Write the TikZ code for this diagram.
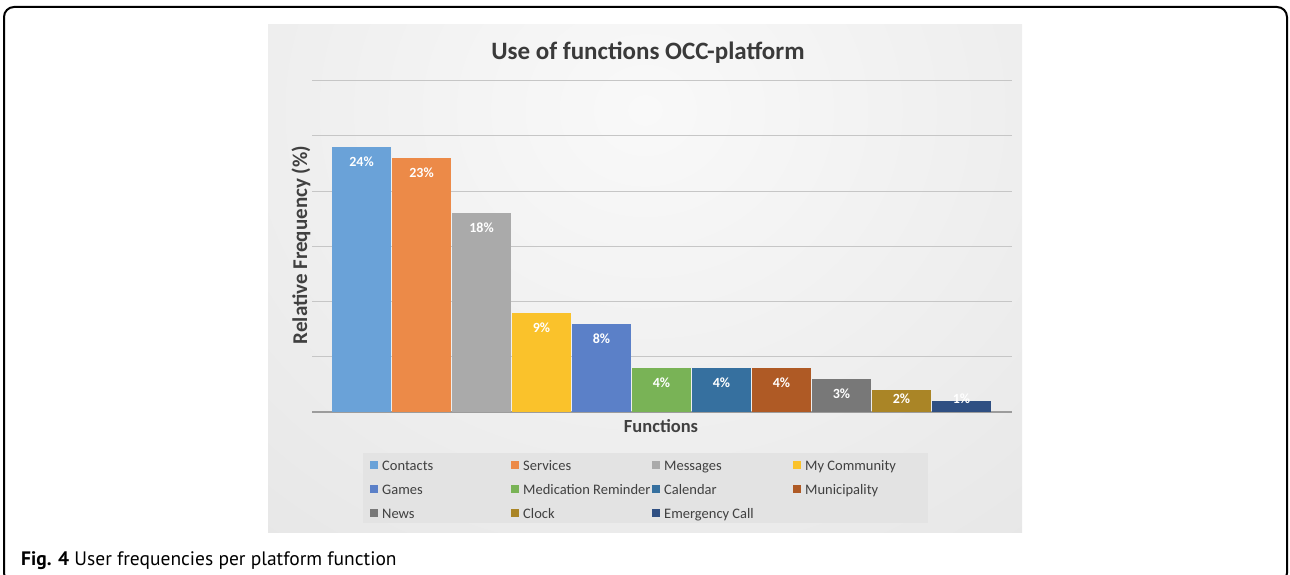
\documentclass[tikz,border=0pt]{standalone}
\usepackage{fontspec}
\setmainfont{Carlito}
\newfontfamily\capfont{PT Sans}
\definecolor{pin}{HTML}{F9F9F9}
\definecolor{pmid}{HTML}{E4E4E4}
\definecolor{pout}{HTML}{C4C4C4}
\definecolor{legbg}{HTML}{E3E3E3}
\definecolor{gridc}{HTML}{C6C6C6}
\definecolor{axisc}{HTML}{9C9C9C}
\definecolor{txt}{HTML}{404040}
\definecolor{ttl}{HTML}{3A3A3A}
\definecolor{cA}{HTML}{6AA2D8}
\definecolor{cB}{HTML}{EC8A48}
\definecolor{cC}{HTML}{AAAAAA}
\definecolor{cD}{HTML}{FAC22B}
\definecolor{cE}{HTML}{5B80C8}
\definecolor{cF}{HTML}{79B356}
\definecolor{cG}{HTML}{36709F}
\definecolor{cH}{HTML}{AF5A25}
\definecolor{cI}{HTML}{787878}
\definecolor{cJ}{HTML}{AA8526}
\definecolor{cK}{HTML}{2F4F82}
\pgfdeclareradialshading{panelshade}{\pgfpoint{0bp}{0bp}}{color(0bp)=(pin); color(25bp)=(pmid); color(50bp)=(pout)}
\begin{document}
\begin{tikzpicture}[x=1pt,y=-1pt,
  gridline/.style={draw=gridc, line width=1pt},
  axisline/.style={draw=axisc, line width=1.2pt},
  barbox/.style={inner sep=0pt, outer sep=0pt, draw=none, minimum width=59pt, anchor=south},
  barlbl/.style={text=white, font=\bfseries\fontsize{14}{16}\selectfont, inner sep=0pt},
  legmark/.style={inner sep=0pt, minimum size=8pt, draw=none},
  legtxt/.style={text=txt, font=\fontsize{14.5}{16}\selectfont, inner sep=0pt, anchor=base west},
  axtitle/.style={text=txt, font=\bfseries\fontsize{21}{24}\selectfont, inner sep=0pt}]
\useasboundingbox (0,0) rectangle (1290,575);
\clip (0,0) rectangle (1290,575);
\draw[line width=2pt, rounded corners=10pt] (4,7) rectangle (1287,583);
% chart panel
\fill[pout] (268,25) rectangle (1022,532);
\begin{scope}
  \clip (268,25) rectangle (1022,532);
  \shade[shading=panelshade] (645,110) ellipse (720 and 640);
\end{scope}
% gridlines
\foreach \v in {5,10,...,30}
  \draw[gridline] (312,{412-11.04*\v}) -- (1012,{412-11.04*\v});
\draw[axisline] (312,412) -- (1012,412);
% bars
\foreach \i/\v/\c/\ly in {0/24/cA/162, 1/23/cB/173, 2/18/cC/228, 3/9/cD/328, 4/8/cE/339, 5/4/cF/383, 6/4/cG/383, 7/4/cH/383, 8/3/cI/394, 9/2/cJ/399, 10/1/cK/399}{
  \node[barbox, fill=\c, minimum height={11.04pt*\v}] (bar\i) at ({361.5+60*\i},412) {};
  \node[barlbl] (lbl\i) at ({361.5+60*\i},\ly) {\v\%};
}
% titles
\node[anchor=base, text=ttl, font=\bfseries\fontsize{25}{30}\selectfont, inner sep=0pt] (title) at (648,60) {Use of functions OCC-platform};
\node[axtitle, rotate=90] (ytitle) at (301,245) {Relative Frequency (\%)};
\node[axtitle, anchor=base, font=\bfseries\fontsize{18.5}{22}\selectfont] (xtitle) at (661,432) {Functions};
% legend
\node[fill=legbg, inner sep=0pt, minimum width=565pt, minimum height=70pt, anchor=north west] (legend) at (363,453) {};
\foreach \col/\row/\c/\t in {0/0/cA/Contacts, 1/0/cB/Services, 2/0/cC/Messages, 3/0/cD/My Community,
  0/1/cE/Games, 1/1/cF/Medication Reminder, 2/1/cG/Calendar, 3/1/cH/Municipality,
  0/2/cI/News, 1/2/cJ/Clock, 2/2/cK/Emergency Call}{
  \node[legmark, fill=\c] (mk\col\row) at ({374+141*\col},{465+24*\row}) {};
  \node[legtxt] (lt\col\row) at ({382+141*\col},{470+24*\row}) {\t};
}
% caption
\node[anchor=base west, inner sep=0pt, font=\capfont\fontsize{19.5}{22}\selectfont] (caption) at (21,565) {\textbf{Fig. 4} User frequencies per platform function};
\end{tikzpicture}
\end{document}
